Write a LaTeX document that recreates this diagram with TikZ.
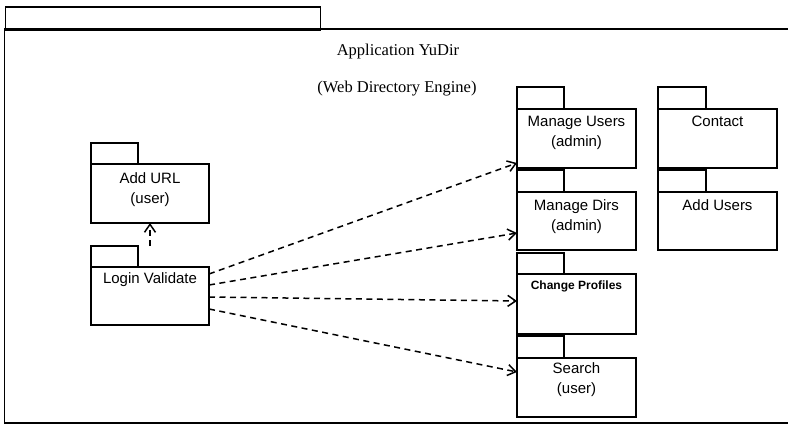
\documentclass[tikz,border=0pt]{standalone}
\usepackage{fontspec}
\setmainfont{Liberation Serif}
\setsansfont{Liberation Sans}
\usetikzlibrary{arrows.meta,calc}

% package symbol: body rectangle (#1) centred at (#2,#3), size #4 x #5, tab #6 x #7
\newcommand\umlpkg[7]{%
  \node[pkgbody,minimum width=#4pt,minimum height=#5pt] (#1) at (#2,#3) {};
  \node[pkgbody,minimum width=#6pt,minimum height=#7pt,anchor=south west] (#1-tab) at (#1.north west) {};
}

\begin{document}
\begin{tikzpicture}[x=1pt,y=-1pt,
  frameline/.style={line width=1.8pt},
  pkgbody/.style={draw,line width=1.2pt,rectangle,inner sep=0pt,outer sep=0pt},
  pkglabel/.style={font=\sffamily\fontsize{15}{20}\selectfont,align=center,inner sep=0pt,anchor=north},
  smalllabel/.style={font=\sffamily\bfseries\fontsize{12}{14}\selectfont,inner sep=0pt,anchor=north},
  titletext/.style={font=\rmfamily\fontsize{16.5}{20}\selectfont,inner sep=0pt},
  dep/.style={line width=1.5pt,dash pattern=on 6pt off 4.5pt,-{Straight Barb[length=8pt,width=11pt]}}]

\useasboundingbox (0,0) rectangle (788,426);

% outer application package
\node[frameline,draw,rectangle,inner sep=0pt,minimum width=315pt,minimum height=23pt,anchor=north west] (app-tab) at (4.5,6) {};
\coordinate (app-nw) at (4.5,29);
\coordinate (app-ne) at (792,29);
\coordinate (app-sw) at (4.5,423);
\coordinate (app-se) at (792,423);
\draw[frameline] (app-ne) -- (app-nw) -- (app-sw) -- (app-se);

\node[titletext] (title) at (398,52) {Application YuDir};
\node[titletext] (subtitle) at (397,89) {(Web Directory Engine)};

% packages
\umlpkg{addurl}{150}{193.5}{118}{59}{47}{21}
\umlpkg{login}{150}{296}{118}{58}{47}{21}
\umlpkg{musers}{576.5}{138.5}{119}{59}{47}{22}
\umlpkg{mdirs}{576.5}{221}{119}{58}{47}{22}
\umlpkg{contact}{717.5}{138.5}{119}{59}{48}{22}
\umlpkg{addusers}{717.5}{221}{119}{58}{48}{22}
\umlpkg{change}{576.5}{304}{119}{60}{47}{21}
\umlpkg{search}{576.5}{387.5}{119}{59}{47}{22}

% package names
\node[pkglabel] (addurl-text) at ($(addurl.north)+(0,8)$) {Add URL\\(user)};
\node[pkglabel] (login-text) at ($(login.north)+(0,5.5)$) {Login Validate};
\node[pkglabel] (musers-text) at ($(musers.north)+(0,7)$) {Manage Users\\(admin)};
\node[pkglabel] (mdirs-text) at ($(mdirs.north)+(0,7)$) {Manage Dirs\\(admin)};
\node[pkglabel] (contact-text) at ($(contact.north)+(0,7)$) {Contact};
\node[pkglabel] (addusers-text) at ($(addusers.north)+(0,7)$) {Add Users};
\node[smalllabel] (change-text) at ($(change.north)+(0,6.5)$) {Change Profiles};
\node[pkglabel] (search-text) at ($(search.north)+(0,4.5)$) {Search\\(user)};

% dependencies
\draw[dep] (addurl.south |- login-tab.north) -- (addurl.south);
\draw[dep] ($(login.east)+(0,-22)$) -- ($(musers.west)+(0,24.5)$);
\draw[dep] ($(login.east)+(0,-11)$) -- ($(mdirs.west)+(0,12)$);
\draw[dep] ($(login.east)+(0,1)$) -- ($(change.west)+(0,-3)$);
\draw[dep] ($(login.east)+(0,13)$) -- ($(search.west)+(0,-15.5)$);
\end{tikzpicture}
\end{document}
